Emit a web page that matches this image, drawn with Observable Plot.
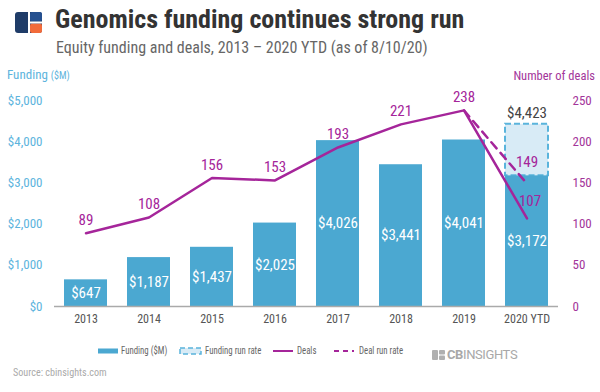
<!DOCTYPE html>
<html><head><meta charset="utf-8">
<script src="https://cdn.jsdelivr.net/npm/d3@7"></script>
<script src="https://cdn.jsdelivr.net/npm/@observablehq/plot@0.6"></script>
<style>
body{margin:0;width:600px;height:392px;position:relative;background:#fff;font-family:"Roboto Condensed","Liberation Sans Narrow",Roboto,sans-serif;overflow:hidden}
.abs{position:absolute;white-space:nowrap}
#chart{position:absolute;left:0;top:85px}
.leg{font-size:11px;color:#666;line-height:14px;transform:scaleX(0.8);transform-origin:left center}
</style></head><body>
<svg class="abs" style="left:15px;top:12px" width="27" height="21" viewBox="0 0 27 21">
<rect x="0" y="0" width="27" height="21" rx="3" fill="#1f3c68"/>
<rect x="15" y="0" width="12" height="9.5" rx="2" fill="#25508f"/>
<rect x="15" y="11.5" width="12" height="9.5" rx="2" fill="#f26b3a"/>
<rect x="13" y="0" width="2" height="21" fill="#fff"/>
<rect x="15" y="9.5" width="12" height="2" fill="#fff"/>
</svg>
<div class="abs" style="left:55px;top:4px;font-size:26px;font-weight:bold;color:#333">Genomics funding continues strong run</div>
<div class="abs" style="left:56px;top:38px;font-size:16px;color:#666">Equity funding and deals, 2013 – 2020 YTD (as of 8/10/20)</div>
<div class="abs" style="left:7px;top:67px;font-size:13px;color:#5db4dd">Funding <span style="font-size:10px">($M)</span></div>
<div class="abs" style="right:5px;top:68px;font-size:12.5px;color:#a3359a">Number of deals</div>
<div id="chart"></div>
<svg class="abs" style="left:98px;top:348px" width="20" height="6"><rect x="0" y="0.5" width="20" height="5" fill="#4ba8d1"/></svg>
<div class="abs leg" style="left:121px;top:344px">Funding ($M)</div>
<svg class="abs" style="left:179px;top:347px" width="24" height="8"><rect x="1" y="1" width="21" height="6" fill="#d8ebf6" stroke="#5ab4dc" stroke-width="1.5" stroke-dasharray="5,3"/></svg>
<div class="abs leg" style="left:205px;top:344px">Funding run rate</div>
<svg class="abs" style="left:273px;top:347px" width="20" height="8"><line x1="0" x2="20" y1="4" y2="4" stroke="#a5259a" stroke-width="2"/></svg>
<div class="abs leg" style="left:297px;top:344px">Deals</div>
<svg class="abs" style="left:334px;top:347px" width="20" height="8"><line x1="0" x2="20" y1="4" y2="4" stroke="#a5259a" stroke-width="2" stroke-dasharray="5,4"/></svg>
<div class="abs leg" style="left:359px;top:344px">Deal run rate</div>
<div class="abs" style="left:432px;top:347px;display:flex;align-items:center;color:#a8a8a8">
<svg width="13" height="10" viewBox="0 0 13 10"><rect x="0" y="0" width="6" height="10" rx="1" fill="#b0b0b0"/><rect x="7" y="0" width="6" height="4.5" rx="1" fill="#b0b0b0"/><rect x="7" y="5.5" width="6" height="4.5" rx="1" fill="#b0b0b0"/></svg>
<span style="font-family:Roboto,sans-serif;font-size:13px;margin-left:2px;letter-spacing:-0.4px"><b>CB</b>INSIGHTS</span></div>
<div class="abs leg" style="left:13px;top:366px;color:#aaa;transform:scaleX(0.92)">Source: cbinsights.com</div>
<script>
const years = ["2013","2014","2015","2016","2017","2018","2019","2020 YTD"];
const funding = [647,1187,1437,2025,4026,3441,4041,3172];
const deals = [89,108,156,153,193,221,238,107];
const runRateYear = "2020 YTD";
const fundingRunRate = 4423;
const dealRunRate = [{year:"2019",v:238},{year:"2020 YTD",v:149}];
const leftTicks = [0,1000,2000,3000,4000,5000];
const rightTicks = [0,50,100,150,200,250];

const k = 20; // deals -> funding units (250 deals ~ $5,000)
const bars = years.map((y,i)=>({year:y,funding:funding[i],deals:deals[i]}));
const blue="#4ba8d1", purple="#a5259a";

const chart = Plot.plot({
  width:600, height:250,
  marginTop:15, marginBottom:29, marginLeft:54, marginRight:42,
  style:{fontFamily:'"Roboto Condensed","Liberation Sans Narrow",Roboto,sans-serif', background:"transparent"},
  x:{domain:years, paddingInner:0.32, paddingOuter:0.16, label:null},
  y:{domain:[0,5000], label:null},
  marks:[
    Plot.axisX({tickSize:0, tickPadding:8, fontSize:12, color:"#555"}),
    Plot.axisY({ticks:leftTicks, tickSize:0, tickPadding:12, fontSize:13, color:"#5db4dd", tickFormat:d=>"$"+d3.format(",")(d), label:null}),
    Plot.axisY({anchor:"right", ticks:rightTicks.map(t=>t*k), tickSize:0, tickPadding:14, fontSize:13, color:"#a3359a", tickFormat:d=>d/k, label:null}),
    Plot.rectY([{year:runRateYear,y2:fundingRunRate}], {x:"year", y1:d=>funding[years.indexOf(d.year)], y2:"y2", fill:"#d8ebf6", stroke:"#5ab4dc", strokeWidth:2, strokeDasharray:"6,3"}),
    Plot.barY(bars,{x:"year", y:"funding", fill:blue}),
    Plot.ruleY([0],{stroke:"#aaa", strokeWidth:1.5}),
    Plot.text(bars,{x:"year", y:d=>d.funding/2, text:d=>"$"+d3.format(",")(d.funding), fill:"white", fontSize:15}),
    Plot.text([{year:runRateYear,v:fundingRunRate}],{x:"year", y:"v", text:d=>"$"+d3.format(",")(d.v), fill:"#444", fontSize:15, dy:-11}),
    Plot.line(dealRunRate,{x:"year", y:d=>d.v*k, stroke:purple, strokeWidth:2.5, strokeDasharray:"8,6"}),
    Plot.line(bars,{x:"year", y:d=>d.deals*k, stroke:purple, strokeWidth:2.5}),
    Plot.text(bars.filter(d=>d.year!==runRateYear),{x:"year", y:d=>d.deals*k, text:"deals", fill:purple, fontSize:15, dy:-13}),
    Plot.text(bars.filter(d=>d.year===runRateYear),{x:"year", y:d=>d.deals*k, text:"deals", fill:purple, fontSize:15, dy:-17, dx:3}),
    Plot.text(dealRunRate.slice(1),{x:"year", y:d=>d.v*k, text:"v", fill:purple, fontSize:15, dy:-22})
  ]
});
document.getElementById("chart").append(chart);
</script>
</body></html>
